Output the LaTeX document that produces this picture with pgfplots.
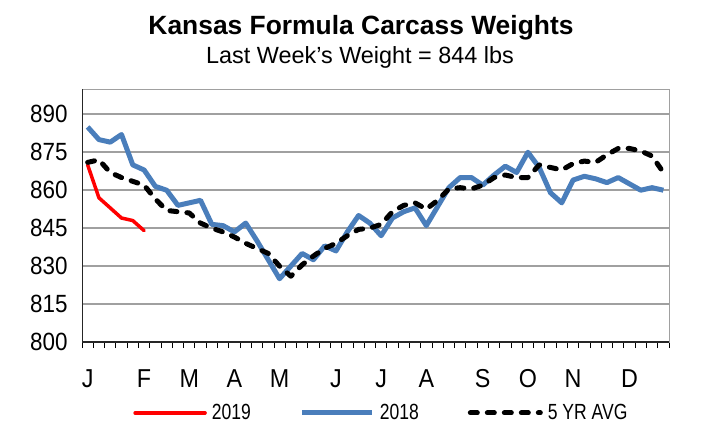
\documentclass[border=0pt]{standalone}
\usepackage{fontspec}
\setmainfont{Liberation Sans}
\newfontfamily\tickfont[FakeStretch=0.9]{Liberation Sans}
\newfontfamily\legfont[FakeStretch=0.8]{Liberation Sans}
\usepackage{pgfplots}
\usepackage{pgfplotstable}
\pgfplotsset{compat=1.18}
\definecolor{blueE}{HTML}{4A7EBB}
\definecolor{gridgray}{HTML}{A0A0A0}

\pgfplotstableread{
w v
0 870
1 857
2 853
3 849
4 848
5 844
}\redtable

\pgfplotstableread{
w v
0 885
1 880
2 879
3 882
4 870
5 868
6 861.5
7 860
8 854
9 855
10 856
11 846.5
12 846
13 843.5
14 847
15 840
16 832.5
17 825
18 830
19 835
20 832.5
21 838
22 836
23 843.5
24 850
25 847
26 842
27 849
28 851.5
29 853
30 846
31 853.5
32 861
33 865
34 865
35 862
36 866
37 869.5
38 867
39 875
40 869
41 859
42 855
43 864
44 865.5
45 864.5
46 863
47 865
48 862.5
49 860
50 861
51 860
}\bluetable

\pgfplotstableread{
w v
0 871
1 872
2 867
3 865
4 863.5
5 862
6 856.5
7 852
8 851.5
9 851
10 847
11 845
12 843.5
13 841.5
14 839
15 837
16 835
17 830
18 826
19 830.5
20 834
21 837
22 839
23 842
24 844.5
25 845
26 846.5
27 851.5
28 854
29 855
30 852.5
31 856
32 860.5
33 861
34 860.5
35 862
36 865
37 866
38 865
39 865
40 870
41 869
42 868
43 870.5
44 871.5
45 871
46 874
47 876.5
48 876.5
49 875.5
50 873.5
51 867
}\avgtable

\begin{document}
\begin{tikzpicture}[x=1bp,y=1bp]
\useasboundingbox (0,0) rectangle (703,424);
\node at (361,396) {\fontsize{26.5}{30}\selectfont\bfseries Kansas Formula Carcass Weights};
\node at (360,367) {\fontsize{23.5}{26}\selectfont Last Week's Weight = 844 lbs};
\begin{axis}[
  at={(82bp,82bp)}, anchor=south west,
  width=587bp, height=253bp, scale only axis,
  xmin=-0.5, xmax=51.5, ymin=800, ymax=900,
  ytick={800,815,...,890},
  xtick={0,5,9,13,17,22,26,30,35,39,43,48},
  xticklabels={J,F,M,A,M,J,J,A,S,O,N,D},
  minor xtick={-0.5,0.5,...,51.5},
  major tick length=0pt, minor tick length=6bp,
  tick align=outside, xtick pos=left, ytick pos=left,
  minor tick style={black, line width=0.8bp},
  ymajorgrids, grid style={gridgray, line width=1.8bp},
  axis line style={gridgray, line width=1bp},
  /pgf/number format/assume math mode=true,
  yticklabel style={font=\tickfont\fontsize{25}{25}\selectfont, xshift=-11bp},
  xticklabel style={font=\tickfont\fontsize{26}{26}\selectfont, yshift=-24bp},
  legend columns=3,
  legend style={at={(0.51,-0.28)}, anchor=center, draw=none, fill=none,
    font=\legfont\fontsize{22}{22}\selectfont,
    /tikz/every even column/.append style={column sep=47bp},
    /tikz/every odd column/.append style={column sep=3bp}},
  legend image code/.code={\draw[#1] (0bp,0bp) -- (70bp,0bp);},
]
\addplot[red, line width=3.5bp, line join=round, line cap=round] table[x=w,y=v]{\redtable};
\addlegendentry{2019}
\addplot[blueE, line width=5bp, line join=round] table[x=w,y=v]{\bluetable};
\addlegendentry{2018}
\addplot[black, line width=5bp, line cap=round, line join=round, dash pattern=on 7bp off 10bp] table[x=w,y=v]{\avgtable};
\addlegendentry{5 YR AVG}
\draw[black!85, line width=1.6bp] (rel axis cs:0,1) -- (rel axis cs:0,0) -- (rel axis cs:1,0);
\end{axis}
\end{tikzpicture}
\end{document}
